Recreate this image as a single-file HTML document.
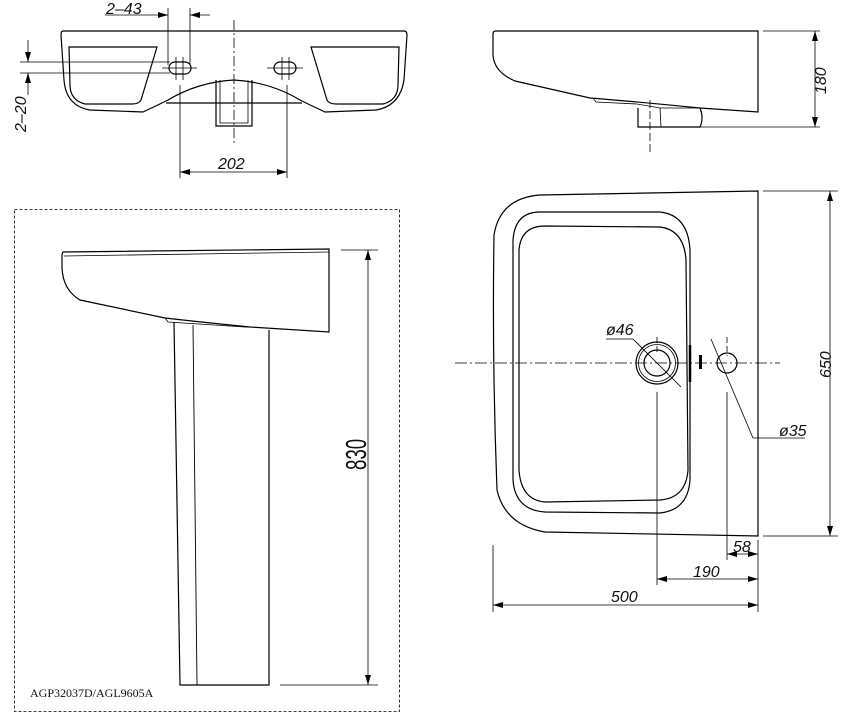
<!DOCTYPE html>
<html><head><meta charset="utf-8"><style>
html,body{margin:0;padding:0;background:#fff;}
svg{display:block;}
text{font-family:"Liberation Sans",sans-serif;font-style:italic;font-size:16px;fill:#111;}
</style></head><body>
<svg width="844" height="713" viewBox="0 0 844 713" xmlns="http://www.w3.org/2000/svg">
<defs>
<marker id="a" viewBox="0 0 10 6" refX="10" refY="3" markerWidth="10" markerHeight="6" orient="auto-start-reverse" markerUnits="userSpaceOnUse"><path d="M0,0 L10,3 L0,6 z" fill="#000"/></marker>
</defs>
<g fill="none" stroke="#000" stroke-width="1.2">
<path d="M63,31 L404,31 Q407,31 407,35 L404,80 Q400,106 376,110 L325,112 Q312,106 300,100 Q270,82 234,80 Q198,82 168,100 Q156,106 143,112 L90,110 Q66,106 64,80 L61,35 Q61,31 63,31 z"/>
<path d="M69,47 L157,47 L141,100 Q139,104 132,104 L85,104 Q70,100 70,85 z"/>
<path d="M311,47 L399,47 L398,85 Q398,100 383,104 L336,104 Q329,104 327,100 z"/>
<path d="M166,103 L302,103"/>
<path d="M216,80 L216,126 L252,126 L252,80"/>
<path d="M220,80 L220,123 L248,123 L248,80" stroke-width="0.8"/>
<rect x="169" y="62" width="22" height="12" rx="6"/>
<rect x="274" y="62" width="22" height="12" rx="6"/>
<line x1="162" y1="68" x2="197" y2="68" stroke-width="0.8"/>
<line x1="267" y1="68" x2="303" y2="68" stroke-width="0.8"/>
<line x1="176" y1="57" x2="176" y2="80" stroke-width="0.8"/>
<line x1="183" y1="57" x2="183" y2="80" stroke-width="0.8"/>
<line x1="282" y1="57" x2="282" y2="80" stroke-width="0.8"/>
<line x1="289" y1="57" x2="289" y2="80" stroke-width="0.8"/>
<line x1="234" y1="20" x2="234" y2="145" stroke-width="0.8" stroke-dasharray="10,3,2,3"/>
<g stroke-width="0.8">
<line x1="168" y1="8" x2="168" y2="65"/><line x1="190" y1="8" x2="190" y2="65"/>
<line x1="105" y1="15" x2="168" y2="15" marker-end="url(#a)"/>
<line x1="210" y1="15" x2="190" y2="15" marker-end="url(#a)"/>
<line x1="180" y1="85" x2="180" y2="178"/><line x1="287" y1="85" x2="287" y2="178"/>
<line x1="180" y1="172" x2="287" y2="172" marker-start="url(#a)" marker-end="url(#a)"/>
<line x1="20" y1="62" x2="170" y2="62"/><line x1="20" y1="73" x2="170" y2="73"/>
<line x1="28" y1="40" x2="28" y2="62" marker-end="url(#a)"/>
<line x1="28" y1="95" x2="28" y2="73" marker-end="url(#a)"/>
</g>
<path d="M496,31 L758,31 L758,112 L700,108 Q640,102 590,98 L515,81 Q494,72 493,55 L493,34 Q493,31 496,31 z"/>
<path d="M593,98 L596,102 L637,104 L660,108 L700,108" stroke-width="0.8"/>
<path d="M638,108 L638,127 L700,127 Q704,118 700,108" />
<line x1="660" y1="108" x2="661" y2="127" stroke-width="0.8"/>
<line x1="650" y1="100" x2="650" y2="155" stroke-width="0.8" stroke-dasharray="8,3"/>
<g stroke-width="0.8">
<line x1="763" y1="31" x2="820" y2="31"/><line x1="640" y1="127" x2="820" y2="127"/>
<line x1="815" y1="31" x2="815" y2="127" marker-start="url(#a)" marker-end="url(#a)"/>
</g>
<rect x="14.5" y="209.5" width="385" height="502" stroke-width="0.8" stroke-dasharray="3,2"/>
<path d="M63,252 L329,249 L329,332 L250,327 Q200,322 165,318 L80,300 Q63,290 62,268 L62,256 Q62,253 63,252 z"/>
<path d="M64,256 L329,252" stroke-width="0.8"/>
<path d="M165,318 L168,322 L245,327 L250,327" stroke-width="0.8"/>
<path d="M174,322 L180,685 L269,685 L269,330"/>
<line x1="193" y1="325" x2="197" y2="685" stroke-width="0.9"/>
<g stroke-width="0.8">
<line x1="341" y1="250" x2="378" y2="250"/><line x1="280" y1="685" x2="378" y2="685"/>
<line x1="368" y1="250" x2="368" y2="685" marker-start="url(#a)" marker-end="url(#a)"/>
</g>
<path d="M540,195 L758,191 L758,536 L545,532 Q505,525 497,490 Q492,360 494,235 Q500,198 540,195 z"/>
<path d="M540,212 L660,212 Q688,215 690,250 L690,480 Q688,510 660,513 L545,512 Q515,510 513,480 L513,240 Q515,212 540,212 z"/>
<path d="M545,226 L660,227 Q684,230 686,260 L688,470 Q686,498 660,500 L545,502 Q521,500 519,470 L519,250 Q521,226 545,226 z"/>
<circle cx="657" cy="363" r="21"/><circle cx="657" cy="363" r="18.5" stroke-width="0.8"/><circle cx="657" cy="363" r="13"/>
<circle cx="727" cy="363" r="10"/>
<line x1="690" y1="345" x2="690" y2="382" stroke-width="2.5"/>
<rect x="699" y="355" width="3" height="14" fill="#000" stroke="none"/>
<g stroke-width="0.8">
<line x1="455" y1="363" x2="780" y2="363" stroke-dasharray="12,3,2,3"/>
<line x1="657" y1="337" x2="657" y2="355" stroke-dasharray="6,3"/>
<line x1="657" y1="392" x2="657" y2="585"/>
<line x1="727" y1="337" x2="727" y2="356" stroke-dasharray="6,3"/>
<line x1="727" y1="392" x2="727" y2="560"/>
<line x1="758" y1="540" x2="758" y2="612"/>
<line x1="493" y1="545" x2="493" y2="612"/>
<line x1="763" y1="191" x2="838" y2="191"/><line x1="763" y1="536" x2="838" y2="536"/>
<line x1="830" y1="191" x2="830" y2="536" marker-start="url(#a)" marker-end="url(#a)"/>
<line x1="727" y1="554" x2="758" y2="554" marker-start="url(#a)" marker-end="url(#a)"/>
<line x1="657" y1="579" x2="758" y2="579" marker-start="url(#a)" marker-end="url(#a)"/>
<line x1="493" y1="605" x2="758" y2="605" marker-start="url(#a)" marker-end="url(#a)"/>
<path d="M606,339 L633,339 L681,387"/>
<line x1="711" y1="339" x2="753" y2="438"/><line x1="753" y1="438" x2="805" y2="438"/>
</g>
</g>
<text x="106" y="14">2–43</text>
<text x="218" y="169">202</text>
<text transform="translate(26,132) rotate(-90)">2–20</text>
<text transform="translate(826,94) rotate(-90)">180</text>
<text transform="translate(831,378) rotate(-90)">650</text>
<text x="606" y="335">ø46</text>
<text x="779" y="436">ø35</text>
<text x="733" y="552">58</text>
<text x="693" y="577">190</text>
<text x="611" y="602">500</text>
<text transform="translate(366,470) rotate(-90) scale(0.85,1.3)" style="font-size:22px;font-style:normal">830</text>
<text x="30" y="697" style="font-family:'Liberation Serif',serif;font-style:normal;font-size:12px">AGP32037D/AGL9605A</text>
</svg>
</body></html>
